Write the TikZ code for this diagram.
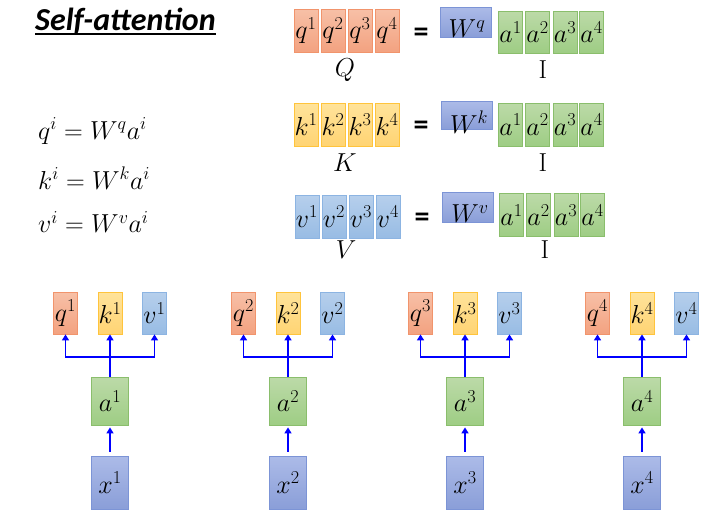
\documentclass[tikz,border=0pt]{standalone}
\usepackage{fix-cm}
\usepackage{fontspec}
\newfontfamily\calibri{Carlito}
\usetikzlibrary{arrows.meta}
\definecolor{qtop}{RGB}{247,192,167}
\definecolor{qbot}{RGB}{243,162,128}
\definecolor{qline}{RGB}{241,148,108}
\definecolor{ktop}{RGB}{255,227,155}
\definecolor{kbot}{RGB}{255,212,115}
\definecolor{kline}{RGB}{255,196,60}
\definecolor{vtop}{RGB}{182,207,236}
\definecolor{vbot}{RGB}{152,188,228}
\definecolor{vline}{RGB}{140,180,226}
\definecolor{atop}{RGB}{188,218,168}
\definecolor{abot}{RGB}{158,205,132}
\definecolor{aline}{RGB}{138,190,108}
\definecolor{wtop}{RGB}{172,187,232}
\definecolor{wbot}{RGB}{138,158,216}
\definecolor{wline}{RGB}{124,148,214}
\newcommand\mfont{\fontsize{26}{30}\selectfont}
\begin{document}
\begin{tikzpicture}[x=1pt,y=-1pt,
  cell/.style={draw, line width=0.8pt, inner sep=0pt, minimum width=24pt, minimum height=43pt, font=\mfont},
  big/.style={cell, minimum width=37pt, minimum height=48pt},
  qcol/.style={top color=qtop, bottom color=qbot, draw=qline},
  kcol/.style={top color=ktop, bottom color=kbot, draw=kline},
  vcol/.style={top color=vtop, bottom color=vbot, draw=vline},
  acol/.style={top color=atop, bottom color=abot, draw=aline},
  wcol/.style={top color=wtop, bottom color=wbot, draw=wline},
  txt/.style={inner sep=0pt, font=\mfont},
  eqs/.style={inner sep=0pt, font=\calibri\bfseries\fontsize{30}{34}\selectfont},
  link/.style={draw=blue, line width=1.8pt},
  arr/.style={link, -{Triangle[length=6pt,width=7pt]}}]
\useasboundingbox (0,0) rectangle (727,523);
% title
\node[inner sep=0pt, anchor=base west, font=\calibri\bfseries\itshape\fontsize{32}{38}\selectfont] (title) at (35,30) {Self-attention};
\path[draw,line width=2pt] ([yshift=-4pt]title.base west) -- ([yshift=-4pt]title.base east);
% equations
\node[txt, anchor=west] (eq1) at (38,131) {$q^i = W^q a^i$};
\node[txt, anchor=west] (eq2) at (38,178) {$k^i = W^k a^i$};
\node[txt, anchor=west] (eq3) at (38,222) {$v^i = W^v a^i$};
% Q = Wq I
\node[cell,qcol] (Q1) at (306,30.5) {$q^1$};
\node[cell,qcol] (Q2) at (333,30.5) {$q^2$};
\node[cell,qcol] (Q3) at (360,30.5) {$q^3$};
\node[cell,qcol] (Q4) at (387,30.5) {$q^4$};
\node[eqs] (eqQ) at (421,35) {=};
\node[cell,wcol,minimum width=51pt,minimum height=30pt] (Wq) at (465.5,22) {};
\node[txt] (Wqt) at (467,29) {$W^q$};
\node[cell,acol,minimum height=42pt] (IQ1) at (510.5,32) {$a^1$};
\node[cell,acol,minimum height=42pt] (IQ2) at (537.5,32) {$a^2$};
\node[cell,acol,minimum height=42pt] (IQ3) at (565,32) {$a^3$};
\node[cell,acol,minimum height=42pt] (IQ4) at (591.5,32) {$a^4$};
\node[txt] (Q) at (345,70) {$Q$};
\node[txt] (IQ) at (543,70) {I};
% K = Wk I
\node[cell,kcol] (K1) at (306,124.5) {$k^1$};
\node[cell,kcol] (K2) at (333,124.5) {$k^2$};
\node[cell,kcol] (K3) at (360,124.5) {$k^3$};
\node[cell,kcol] (K4) at (387,124.5) {$k^4$};
\node[eqs] (eqK) at (421,128) {=};
\node[cell,wcol,minimum width=51pt,minimum height=28pt] (Wk) at (466.5,115) {};
\node[txt] (Wkt) at (469,122) {$W^k$};
\node[cell,acol] (IK1) at (510.5,124.5) {$a^1$};
\node[cell,acol] (IK2) at (537.5,124.5) {$a^2$};
\node[cell,acol] (IK3) at (565,124.5) {$a^3$};
\node[cell,acol] (IK4) at (591.5,124.5) {$a^4$};
\node[txt] (K) at (345,163) {$K$};
\node[txt] (IK) at (543,163) {I};
% V = Wv I
\node[cell,vcol] (V1) at (307,216.5) {$v^1$};
\node[cell,vcol] (V2) at (334,216.5) {$v^2$};
\node[cell,vcol] (V3) at (361,216.5) {$v^3$};
\node[cell,vcol] (V4) at (388,216.5) {$v^4$};
\node[eqs] (eqV) at (422,220) {=};
\node[cell,wcol,minimum width=51pt,minimum height=30pt] (Wv) at (467.5,207) {};
\node[txt] (Wvt) at (470,214) {$W^v$};
\node[cell,acol] (IV1) at (511.5,215) {$a^1$};
\node[cell,acol] (IV2) at (538.5,215) {$a^2$};
\node[cell,acol] (IV3) at (566,215) {$a^3$};
\node[cell,acol] (IV4) at (592.5,215) {$a^4$};
\node[txt] (V) at (346,250) {$V$};
\node[txt] (IV) at (545,250) {I};
% token 1
\node[cell,qcol,minimum height=42pt] (q1) at (65.5,313) {$q^1$};
\node[cell,kcol,minimum height=42pt] (k1) at (110,313) {$k^1$};
\node[cell,vcol,minimum height=42pt] (v1) at (154.5,313) {$v^1$};
\node[big,acol] (a1) at (110,401) {$a^1$};
\node[big,wcol,minimum height=53pt] (x1) at (110,482.5) {$x^1$};
\coordinate (j1) at (110,357);
% token 2
\node[cell,qcol,minimum height=42pt] (q2) at (243.5,313) {$q^2$};
\node[cell,kcol,minimum height=42pt] (k2) at (288,313) {$k^2$};
\node[cell,vcol,minimum height=42pt] (v2) at (332.5,313) {$v^2$};
\node[big,acol] (a2) at (288,401) {$a^2$};
\node[big,wcol,minimum height=53pt] (x2) at (288,482.5) {$x^2$};
\coordinate (j2) at (288,357);
% token 3
\node[cell,qcol,minimum height=42pt] (q3) at (420.5,313) {$q^3$};
\node[cell,kcol,minimum height=42pt] (k3) at (465,313) {$k^3$};
\node[cell,vcol,minimum height=42pt] (v3) at (509.5,313) {$v^3$};
\node[big,acol] (a3) at (465,401) {$a^3$};
\node[big,wcol,minimum height=53pt] (x3) at (465,482.5) {$x^3$};
\coordinate (j3) at (465,357);
% token 4
\node[cell,qcol,minimum height=42pt] (q4) at (597.5,313) {$q^4$};
\node[cell,kcol,minimum height=42pt] (k4) at (642,313) {$k^4$};
\node[cell,vcol,minimum height=42pt] (v4) at (686.5,313) {$v^4$};
\node[big,acol] (a4) at (642,401) {$a^4$};
\node[big,wcol,minimum height=53pt] (x4) at (642,482.5) {$x^4$};
\coordinate (j4) at (642,357);
% arrows
\path[draw,link] (a1) -- (j1);
\path[draw,arr] (j1) -| (q1);
\path[draw,arr] (j1) -- (k1);
\path[draw,arr] (j1) -| (v1);
\path[draw,arr,shorten <=4pt,shorten >=2pt] (x1) -- (a1);
\path[draw,link] (a2) -- (j2);
\path[draw,arr] (j2) -| (q2);
\path[draw,arr] (j2) -- (k2);
\path[draw,arr] (j2) -| (v2);
\path[draw,arr,shorten <=4pt,shorten >=2pt] (x2) -- (a2);
\path[draw,link] (a3) -- (j3);
\path[draw,arr] (j3) -| (q3);
\path[draw,arr] (j3) -- (k3);
\path[draw,arr] (j3) -| (v3);
\path[draw,arr,shorten <=4pt,shorten >=2pt] (x3) -- (a3);
\path[draw,link] (a4) -- (j4);
\path[draw,arr] (j4) -| (q4);
\path[draw,arr] (j4) -- (k4);
\path[draw,arr] (j4) -| (v4);
\path[draw,arr,shorten <=4pt,shorten >=2pt] (x4) -- (a4);
\end{tikzpicture}
\end{document}
